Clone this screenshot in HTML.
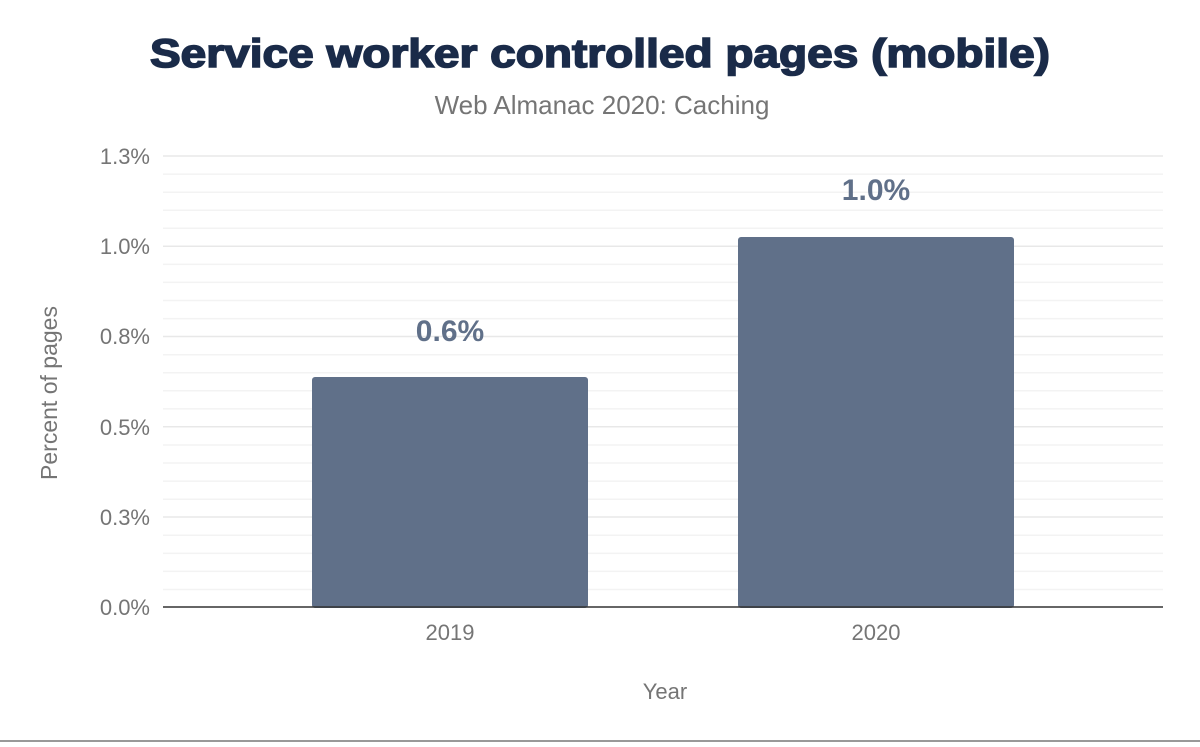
<!DOCTYPE html>
<html><head><style>
body{margin:0;background:#fff;width:1200px;height:742px;overflow:hidden;font-family:"Liberation Sans",sans-serif}
</style></head><body>
<svg width="1200" height="742" xmlns="http://www.w3.org/2000/svg" font-family="Liberation Sans, sans-serif">
<text x="150" y="67" font-size="40" font-weight="bold" fill="#1a2b49" stroke="#1a2b49" stroke-width="1.6" textLength="900" lengthAdjust="spacingAndGlyphs">Service worker controlled pages (mobile)</text>
<text x="602" y="114" text-anchor="middle" font-size="26" fill="#757575">Web Almanac 2020: Caching</text>
<g stroke="#f3f3f3" stroke-width="1.5">
<line x1="163" x2="1163" y1="174.1" y2="174.1"/><line x1="163" x2="1163" y1="192.2" y2="192.2"/><line x1="163" x2="1163" y1="210.2" y2="210.2"/><line x1="163" x2="1163" y1="228.3" y2="228.3"/>
<line x1="163" x2="1163" y1="264.4" y2="264.4"/><line x1="163" x2="1163" y1="282.4" y2="282.4"/><line x1="163" x2="1163" y1="300.5" y2="300.5"/><line x1="163" x2="1163" y1="318.6" y2="318.6"/>
<line x1="163" x2="1163" y1="354.7" y2="354.7"/><line x1="163" x2="1163" y1="372.8" y2="372.8"/><line x1="163" x2="1163" y1="390.8" y2="390.8"/><line x1="163" x2="1163" y1="408.9" y2="408.9"/>
<line x1="163" x2="1163" y1="445" y2="445"/><line x1="163" x2="1163" y1="463" y2="463"/><line x1="163" x2="1163" y1="481.1" y2="481.1"/><line x1="163" x2="1163" y1="499.2" y2="499.2"/>
<line x1="163" x2="1163" y1="535.3" y2="535.3"/><line x1="163" x2="1163" y1="553.4" y2="553.4"/><line x1="163" x2="1163" y1="571.4" y2="571.4"/><line x1="163" x2="1163" y1="589.5" y2="589.5"/>
</g>
<g stroke="#e8e8e8" stroke-width="1.5">
<line x1="163" x2="1163" y1="156" y2="156"/><line x1="163" x2="1163" y1="246.2" y2="246.2"/><line x1="163" x2="1163" y1="336.5" y2="336.5"/><line x1="163" x2="1163" y1="426.8" y2="426.8"/><line x1="163" x2="1163" y1="517" y2="517"/>
</g>
<g font-size="22" fill="#757575" text-anchor="end">
<text x="150" y="164">1.3%</text><text x="150" y="254">1.0%</text><text x="150" y="344">0.8%</text><text x="150" y="435">0.5%</text><text x="150" y="525">0.3%</text><text x="150" y="615">0.0%</text>
</g>
<rect x="312" y="377" width="276" height="231" rx="3" fill="#607089"/>
<rect x="738" y="237" width="276" height="371" rx="3" fill="#607089"/>
<line x1="163" x2="1163" y1="607" y2="607" stroke="#333" stroke-width="1.5"/>
<g font-size="30" font-weight="bold" fill="#607089" text-anchor="middle">
<text x="450" y="341">0.6%</text><text x="876" y="200">1.0%</text>
</g>
<g font-size="22" fill="#757575" text-anchor="middle">
<text x="450" y="640">2019</text><text x="876" y="640">2020</text>
<text x="665" y="699">Year</text>
<text transform="translate(57,393) rotate(-90)" font-size="23">Percent of pages</text>
</g>
<line x1="0" x2="1200" y1="741" y2="741" stroke="#999" stroke-width="2"/>
</svg>
</body></html>
